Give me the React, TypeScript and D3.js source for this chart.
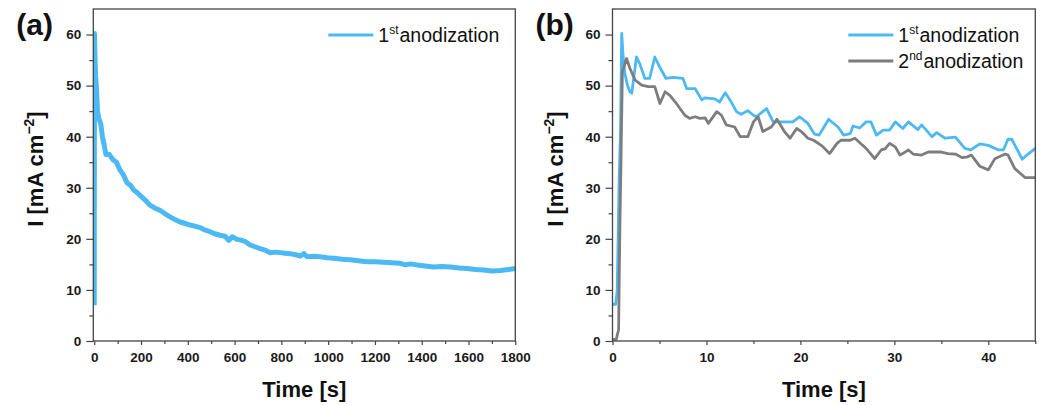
import * as d3 from "d3";
import { useEffect, useRef } from "react";

// panel (a): 1st anodization, long run
const timeA = [0, 1, 3, 6, 10, 14, 20, 28, 35, 42, 50, 65, 80, 95, 110, 125, 140, 155, 170, 185, 203, 220, 238, 260, 281, 300, 324, 345, 367, 390, 409, 430, 452, 475, 495, 515, 538, 560, 575, 590, 610, 623, 645, 666, 690, 709, 730, 752, 775, 795, 815, 837, 860, 880, 897, 910, 940, 966, 995, 1023, 1060, 1094, 1130, 1165, 1200, 1237, 1270, 1308, 1330, 1350, 1379, 1415, 1450, 1485, 1522, 1560, 1593, 1630, 1664, 1700, 1736, 1770, 1800];
const currentA = [7, 60.2, 56, 52, 49, 45, 43.5, 42.5, 40, 38.5, 36.5, 36.5, 35.5, 35, 33.5, 32.5, 31, 30.5, 29.5, 29, 28.2, 27.5, 26.6, 26, 25.6, 25, 24.3, 23.8, 23.3, 23, 22.7, 22.5, 22.2, 21.7, 21.4, 21, 20.7, 20.5, 19.7, 20.4, 19.9, 19.8, 19.5, 18.8, 18.4, 18.1, 17.8, 17.3, 17.4, 17.3, 17.2, 17.1, 16.9, 16.6, 17.1, 16.5, 16.6, 16.5, 16.3, 16.2, 16.0, 15.9, 15.7, 15.5, 15.5, 15.4, 15.3, 15.2, 14.9, 15.1, 14.9, 14.7, 14.5, 14.6, 14.5, 14.3, 14.2, 14.0, 13.9, 13.7, 13.8, 14.0, 14.2];

// panel (b): first 45 s
const timeB1 = [0, 0.35, 0.5, 0.6, 0.7, 0.85, 0.98, 1.1, 1.3, 1.6, 1.85, 2.05, 2.55, 2.9, 3.45, 3.95, 4.5, 5.0, 5.7, 6.4, 7.5, 7.9, 8.8, 9.5, 9.8, 10.9, 11.4, 12.0, 12.5, 13.2, 13.7, 14.4, 15.0, 15.3, 16.4, 17.1, 19.2, 19.9, 20.8, 21.5, 22.0, 23.0, 24.0, 24.6, 25.3, 25.6, 26.3, 27.0, 27.5, 28.1, 28.8, 29.5, 30.1, 30.9, 31.5, 32.5, 32.9, 34.0, 34.5, 35.4, 36.5, 37.5, 38.1, 39.1, 40.0, 41.1, 41.6, 42.1, 42.5, 43.6, 44.3, 45];
const currentB1 = [7.2, 7.2, 10, 20, 31, 41, 60.2, 56.5, 52.5, 50, 48.8, 48.5, 55.6, 54.3, 51.4, 51.4, 55.6, 53.7, 51.4, 51.6, 51.4, 49.4, 49.4, 47.2, 47.6, 47.4, 46.8, 48.6, 47.2, 44.9, 44.4, 45.1, 44.2, 43.9, 45.5, 42.9, 42.9, 43.9, 42.6, 40.5, 40.3, 43.4, 41.9, 40.3, 40.6, 42.1, 41.7, 42.9, 42.9, 40.3, 41.3, 41.3, 42.9, 41.6, 42.9, 41.4, 42.3, 40.0, 40.8, 39.7, 39.9, 37.7, 37.4, 38.6, 38.3, 37.4, 37.4, 39.5, 39.5, 35.6, 36.7, 37.7];
const timeB2 = [0, 0.4, 0.55, 0.65, 0.72, 0.8, 0.9, 1.05, 1.5, 1.85, 2.4, 3.1, 3.8, 4.5, 5.05, 5.6, 6.1, 6.8, 7.7, 8.2, 8.8, 9.3, 9.85, 10.2, 11.1, 11.6, 12.1, 13.0, 13.6, 14.4, 15.0, 15.5, 16.0, 16.9, 17.5, 18.3, 18.9, 19.6, 20.1, 20.8, 21.4, 22.3, 23.1, 23.9, 24.3, 25.3, 25.8, 27.0, 27.9, 28.6, 29.0, 29.5, 30.1, 30.6, 31.5, 32.0, 32.9, 33.6, 35.0, 35.7, 36.5, 37.2, 37.7, 38.2, 39.1, 40.0, 40.7, 41.8, 42.1, 42.8, 43.9, 45];
const currentB2 = [0.3, 0.3, 1.5, 2.2, 13, 24, 35, 52.7, 55.3, 53.4, 51.1, 50.1, 49.8, 49.8, 46.5, 48.8, 48.1, 46.5, 44.2, 43.6, 43.9, 43.6, 43.7, 42.6, 44.9, 44.2, 42.3, 41.9, 40.0, 40.0, 42.9, 43.9, 41.0, 41.9, 43.4, 41.0, 39.7, 41.6, 41.0, 39.7, 39.3, 38.2, 36.7, 38.7, 39.3, 39.3, 39.7, 37.7, 35.7, 37.4, 37.6, 38.7, 38.0, 36.4, 37.4, 36.6, 36.4, 37.0, 37.0, 36.7, 36.6, 35.9, 36.0, 36.4, 34.2, 33.5, 35.7, 36.6, 36.4, 33.8, 32.0, 32.0];

const yMajor = [0, 10, 20, 30, 40, 50, 60];
const yMinor = [5, 15, 25, 35, 45, 55];
const xMajorA = [0, 200, 400, 600, 800, 1000, 1200, 1400, 1600, 1800];
const xMinorA = [100, 300, 500, 700, 900, 1100, 1300, 1500, 1700];
const xMajorB = [0, 10, 20, 30, 40];
const xMinorB = [5, 15, 25, 35, 45];

const BLUE = "#4cb9f2";
const GRAY = "#7d7d7d";
const FRAME = "#444";

const App = () => {
  const ref = useRef(null);

  useEffect(() => {
    const svg = d3.select(ref.current);
    svg.selectAll("*").remove();

    const top = 9, bottom = 341;
    const y = d3.scaleLinear().domain([0, 65]).range([bottom, top]);

    function panel(opts) {
      const { id, label, left, right, xDomain, xMajor, xMinor, series } = opts;
      const x = d3.scaleLinear().domain(xDomain).range([left, right]);
      const g = svg.append("g");

      g.append("clipPath").attr("id", "clip" + id)
        .append("rect").attr("x", left).attr("y", top)
        .attr("width", right - left).attr("height", bottom - top);

      // data lines
      series.forEach((s) => {
        const pts = s.t.map((t, i) => [t, s.v[i]]);
        g.append("path")
          .attr("d", d3.line().x((d) => x(d[0])).y((d) => y(d[1]))(pts))
          .attr("fill", "none")
          .attr("stroke", s.color)
          .attr("stroke-width", s.width)
          .attr("stroke-linejoin", "round")
          .attr("clip-path", `url(#clip${id})`);
      });

      // axes
      const xa = g.append("g").attr("transform", `translate(0,${bottom})`);
      xa.call(d3.axisBottom(x).tickValues(xMajor).tickSize(4).tickPadding(7).tickFormat(d3.format("d")));
      xa.call((a) => a.select(".domain").remove());
      const xm = g.append("g").attr("transform", `translate(0,${bottom})`);
      xm.call(d3.axisBottom(x).tickValues(xMinor).tickSize(3).tickFormat(() => ""));
      xm.call((a) => a.select(".domain").remove());

      const ya = g.append("g").attr("transform", `translate(${left},0)`);
      ya.call(d3.axisLeft(y).tickValues(yMajor).tickSize(7).tickPadding(5));
      ya.call((a) => a.select(".domain").remove());
      const ym = g.append("g").attr("transform", `translate(${left},0)`);
      ym.call(d3.axisLeft(y).tickValues(yMinor).tickSize(4).tickFormat(() => ""));
      ym.call((a) => a.select(".domain").remove());

      g.selectAll(".tick line").attr("stroke", FRAME).attr("stroke-width", 1.2);
      g.selectAll(".tick text")
        .attr("font-family", "Arial, 'Liberation Sans', sans-serif")
        .attr("font-size", 13.5)
        .attr("font-weight", "bold")
        .attr("fill", "#1a1a1a");

      g.append("rect")
        .attr("x", left).attr("y", top)
        .attr("width", right - left).attr("height", bottom - top)
        .attr("fill", "none").attr("stroke", FRAME).attr("stroke-width", 1.3);

      // titles
      g.append("text")
        .attr("x", (left + right) / 2).attr("y", 397)
        .attr("text-anchor", "middle")
        .attr("font-family", "Arial, 'Liberation Sans', sans-serif")
        .attr("font-size", 22).attr("font-weight", "bold").attr("fill", "#111")
        .text("Time [s]");

      const yt = g.append("text")
        .attr("transform", `translate(${left - 50},169) rotate(-90)`)
        .attr("text-anchor", "middle")
        .attr("font-family", "Arial, 'Liberation Sans', sans-serif")
        .attr("font-size", 22).attr("font-weight", "bold").attr("fill", "#111");
      yt.append("tspan").text("I [mA cm");
      yt.append("tspan").attr("font-size", 14).attr("dy", -9).text("\u22122");
      yt.append("tspan").attr("dy", 9).text("]");

      g.append("text")
        .attr("x", left - 77).attr("y", 35)
        .attr("font-family", "Arial, 'Liberation Sans', sans-serif")
        .attr("font-size", 30).attr("font-weight", "bold").attr("fill", "#111")
        .text(label);

      // legend
      series.forEach((s, i) => {
        const ly = 35 + i * 26;
        const lx = right - 187;
        g.append("line")
          .attr("x1", lx).attr("x2", lx + 45).attr("y1", ly).attr("y2", ly)
          .attr("stroke", s.color).attr("stroke-width", 2.8);
        const t = g.append("text")
          .attr("x", lx + 50).attr("y", ly + 7)
          .attr("font-family", "Arial, 'Liberation Sans', sans-serif")
          .attr("font-size", 19.5).attr("fill", "#111");
        t.append("tspan").text(s.num);
        t.append("tspan").attr("font-size", 12).attr("dy", -8).text(s.sup);
        t.append("tspan").attr("dy", 8).attr("dx", 1).text("anodization");
      });
    }

    panel({
      id: "a", label: "(a)", left: 93.3, right: 515.3,
      xDomain: [-4, 1800], xMajor: xMajorA, xMinor: xMinorA,
      series: [{ t: timeA, v: currentA, color: BLUE, width: 5, num: "1", sup: "st" }],
    });
    panel({
      id: "b", label: "(b)", left: 612.5, right: 1035.3,
      xDomain: [0, 45], xMajor: xMajorB, xMinor: xMinorB,
      series: [
        { t: timeB1, v: currentB1, color: BLUE, width: 2.8, num: "1", sup: "st" },
        { t: timeB2, v: currentB2, color: GRAY, width: 2.8, num: "2", sup: "nd" },
      ],
    });
  }, []);

  return (
    <svg ref={ref} width={1041} height={405}
      style={{ position: "absolute", left: 0, top: 0, background: "#fff" }} />
  );
};

export default App;
